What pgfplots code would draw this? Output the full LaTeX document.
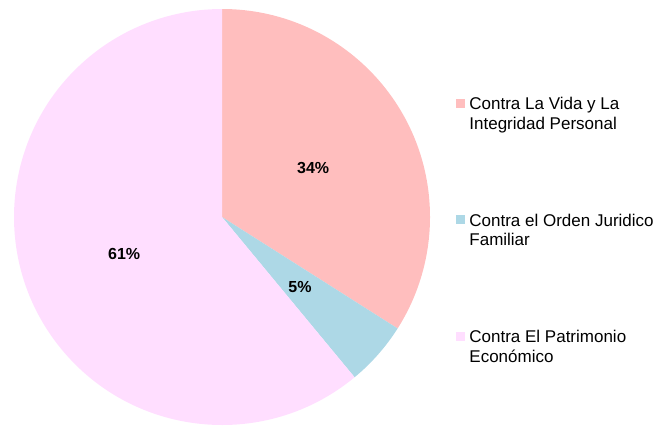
\documentclass[border=0pt]{standalone}
\usepackage{pgfplots}
\usepackage{pgfplotstable}
\pgfplotsset{compat=1.18}
\usepackage{fontspec}
\setmainfont{Liberation Sans}
\definecolor{cA}{HTML}{FFBEBE}
\definecolor{cB}{HTML}{ADD8E6}
\definecolor{cC}{HTML}{FFDEFF}
\pgfplotstableread{
idx value
0 34
1 5
2 61
}\piedata
\begin{document}
\begin{tikzpicture}
\pgfplotstablegetelem{0}{value}\of\piedata \pgfmathsetmacro\va{\pgfplotsretval}
\pgfplotstablegetelem{1}{value}\of\piedata \pgfmathsetmacro\vb{\pgfplotsretval}
\pgfplotstablegetelem{2}{value}\of\piedata \pgfmathsetmacro\vc{\pgfplotsretval}
\pgfmathsetmacro\aA{90}
\pgfmathsetmacro\aB{\aA-3.6*\va}
\pgfmathsetmacro\aC{\aB-3.6*\vb}
\pgfmathsetmacro\aD{\aC-3.6*\vc}
\pgfmathsetmacro\mA{(\aA+\aB)/2}
\pgfmathsetmacro\mB{(\aB+\aC)/2}
\pgfmathsetmacro\mC{(\aC+\aD)/2}
\useasboundingbox (0,0) rectangle (328pt,212.5pt);
\begin{axis}[at={(0,0)},anchor=south west, scale only axis, width=328pt, height=212.5pt,
  xmin=0,xmax=656,ymin=0,ymax=425, hide axis, clip=false]
\fill[cA] (axis cs:222,208) -- ++(\aA:104pt) arc[start angle=\aA, end angle=\aB, radius=104pt] -- cycle;
\fill[cB] (axis cs:222,208) -- ++(\aB:104pt) arc[start angle=\aB, end angle=\aC, radius=104pt] -- cycle;
\fill[cC] (axis cs:222,208) -- ++(\aC:104pt) arc[start angle=\aC, end angle=\aD, radius=104pt] -- cycle;
\node[font=\bfseries\fontsize{8}{9}\selectfont, inner sep=0] at ([shift={(\mA:52pt)}]axis cs:222,206.5) {\va\%};
\node[font=\bfseries\fontsize{8}{9}\selectfont, inner sep=0] at ([shift={(\mB:52pt)}]axis cs:222,206.5) {\vb\%};
\node[font=\bfseries\fontsize{8}{9}\selectfont, inner sep=0] at ([shift={(\mC:52pt)}]axis cs:222,206.5) {\vc\%};
% legend
\fill[cA] (axis cs:456,326) rectangle (axis cs:465,317);
\fill[cB] (axis cs:456,210) rectangle (axis cs:465,201);
\fill[cC] (axis cs:456,93) rectangle (axis cs:465,84);
\begin{scope}[every node/.style={font=\fontsize{8.5}{10}\selectfont, inner sep=0, anchor=base west}]
\node at (axis cs:469,315.7) {Contra La Vida y La};
\node at (axis cs:469,296) {Integridad Personal};
\node at (axis cs:469,199) {Contra el Orden Juridico};
\node at (axis cs:469,179.3) {Familiar};
\node at (axis cs:469,82.3) {Contra El Patrimonio};
\node at (axis cs:469,62.3) {Económico};
\end{scope}
\end{axis}
\end{tikzpicture}
\end{document}
